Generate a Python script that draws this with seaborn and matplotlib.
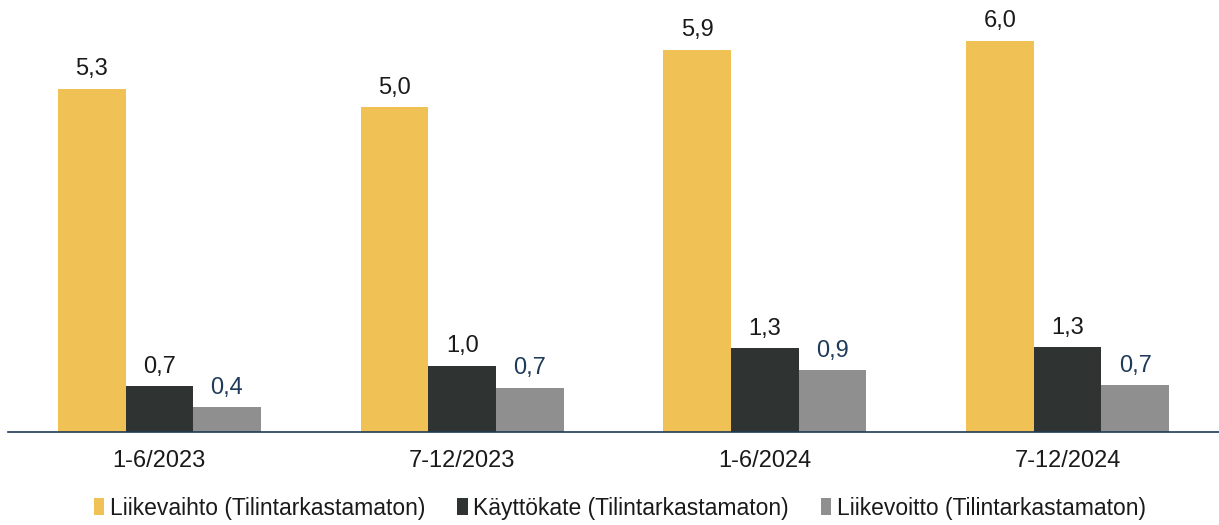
import pandas as pd
import matplotlib.pyplot as plt
import seaborn as sns

# =========================
# Data
# =========================

periods = ["1-6/2023", "7-12/2023", "1-6/2024", "7-12/2024"]
series = ["Liikevaihto (Tilintarkastamaton)",
          "Käyttökate (Tilintarkastamaton)",
          "Liikevoitto (Tilintarkastamaton)"]
liikevaihto = [5.28, 5.00, 5.88, 6.02]
kayttokate = [0.71, 1.02, 1.29, 1.31]
liikevoitto = [0.38, 0.68, 0.95, 0.72]

colors = ["#F0C255", "#2F3332", "#8F8F8F"]
label_colors = ["#1A1A1A", "#1A1A1A", "#1F3A5A"]

df = pd.DataFrame({
    "period": periods * 3,
    "series": [series[0]] * 4 + [series[1]] * 4 + [series[2]] * 4,
    "value": liikevaihto + kayttokate + liikevoitto,
})

# =========================
# Plot
# =========================

sns.set_style("white")
plt.rcParams['font.family'] = ['Liberation Sans', 'DejaVu Sans']

fig = plt.figure(figsize=(12.19, 5.25), dpi=100)
ax = fig.add_axes([8 / 1219, 1 - 432 / 525, 1 - 8 / 1219, 432 / 525])

sns.barplot(data=df, x="period", y="value", hue="series", hue_order=series,
            palette=colors, width=0.67, gap=0, saturation=1, ax=ax,
            linewidth=0, legend=True)

for cont, lc in zip(ax.containers, label_colors):
    labels = [f"{b.get_height():.1f}".replace(".", ",") for b in cont]
    ax.bar_label(cont, labels=labels, padding=6, fontsize=17, color=lc)

ax.set_ylim(0, 432 / 65)
ax.set_xlim(-0.5, 3.5)
ax.set_xlabel("")
ax.set_ylabel("")
ax.set_yticks([])
ax.tick_params(axis="x", length=0, pad=13, labelsize=17, labelcolor="#1A1A1A")

for s in ["top", "right", "left"]:
    ax.spines[s].set_visible(False)
ax.spines["bottom"].set_color("#1F3A5A")
ax.spines["bottom"].set_linewidth(1.2)

handles, lbls = ax.get_legend_handles_labels()
ax.legend(handles, lbls, loc="center", bbox_to_anchor=(620 / 1219, 17 / 525),
          bbox_transform=fig.transFigure, ncol=3, frameon=False,
          fontsize=16.5, handlelength=0.45, handleheight=0.75,
          handletextpad=0.25, columnspacing=1.4, labelcolor="#1A1A1A")

plt.savefig("out.png", dpi=100)
